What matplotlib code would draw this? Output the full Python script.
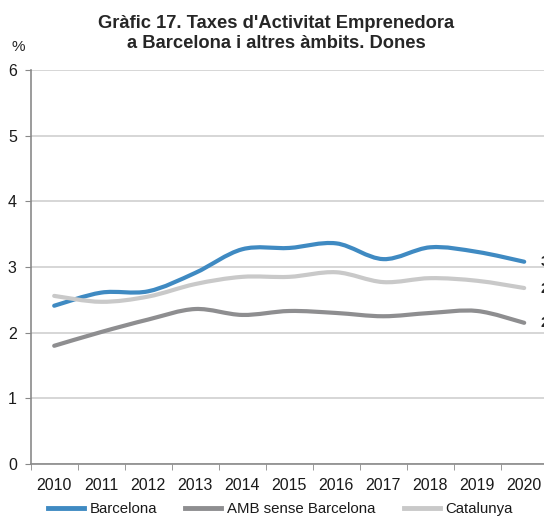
import matplotlib
matplotlib.use("Agg")
import matplotlib.pyplot as plt
from matplotlib.path import Path
from matplotlib.patches import PathPatch
from matplotlib.lines import Line2D

plt.rcParams['font.family'] = ['Liberation Sans', 'DejaVu Sans']

years = ['2010', '2011', '2012', '2013', '2014', '2015', '2016', '2017', '2018', '2019', '2020']
barcelona = [2.41, 2.61, 2.63, 2.91, 3.27, 3.29, 3.36, 3.12, 3.30, 3.23, 3.08]
amb = [1.80, 2.01, 2.20, 2.36, 2.27, 2.33, 2.30, 2.25, 2.30, 2.33, 2.15]
catalunya = [2.56, 2.47, 2.55, 2.74, 2.85, 2.85, 2.92, 2.77, 2.83, 2.79, 2.68]
end_labels = ['3,1', '2,1', '2,7']

names = ['Barcelona', 'AMB sense Barcelona', 'Catalunya']
colors = ['#3F8AC2', '#8E8E90', '#C9C9C9']
series = [barcelona, amb, catalunya]


def smooth_path(xs, ys):
    # Excel-like smoothed line: Catmull-Rom segments as cubic beziers
    verts = [(xs[0], ys[0])]
    codes = [Path.MOVETO]
    n = len(xs)
    for i in range(n - 1):
        x0, y0 = (xs[i - 1], ys[i - 1]) if i > 0 else (xs[i], ys[i])
        x1, y1 = xs[i], ys[i]
        x2, y2 = xs[i + 1], ys[i + 1]
        x3, y3 = (xs[i + 2], ys[i + 2]) if i + 2 < n else (xs[i + 1], ys[i + 1])
        c1 = (x1 + (x2 - x0) / 6, y1 + (y2 - y0) / 6)
        c2 = (x2 - (x3 - x1) / 6, y2 - (y3 - y1) / 6)
        verts += [c1, c2, (x2, y2)]
        codes += [Path.CURVE4] * 3
    return Path(verts, codes)


fig = plt.figure(figsize=(5.44, 5.16), dpi=100)
ax = fig.add_axes([30.7 / 544, 52 / 516, 517 / 544, 394 / 516])
x = list(range(len(years)))

for vals, c in zip(series, colors):
    patch = PathPatch(smooth_path(x, vals), facecolor='none', edgecolor=c,
                      lw=3, capstyle='round', joinstyle='round', zorder=3)
    ax.add_patch(patch)

# value labels at the line ends (cut by the right edge, as in the original)
for vals, lab in zip(series, end_labels):
    ax.text(10.35, vals[-1], lab, ha='left', va='center', fontsize=11,
            fontweight='bold', color='#262626', clip_on=False)

ax.set_xlim(-0.5, 10.5)
ax.set_ylim(0, 6)
ax.set_yticks(range(0, 7))
ax.set_xticks(x)
ax.set_xticklabels(years)
ax.set_xticks([i - 0.5 for i in range(12)], minor=True)
ax.tick_params(axis='x', which='major', length=0, pad=10, labelsize=11.5, labelcolor='#1a1a1a')
ax.tick_params(axis='x', which='minor', length=4, color='#888888', direction='out')
ax.tick_params(axis='y', length=4, color='#888888', direction='out', pad=6,
               labelsize=11.5, labelcolor='#1a1a1a')
ax.grid(axis='y', color='#D0D0D0', lw=1.2)
ax.set_axisbelow(True)
for s in ['top', 'right']:
    ax.spines[s].set_visible(False)
for s in ['left', 'bottom']:
    ax.spines[s].set_color('#8A8A8A')
    ax.spines[s].set_linewidth(1.2)

fig.text(0.508, 0.935, "Gràfic 17. Taxes d'Activitat Emprenedora\na Barcelona i altres àmbits. Dones",
         ha='center', va='center', fontsize=13.2, fontweight='bold', color='#262626', linespacing=1.3)
fig.text(0.033, 0.909, '%', ha='center', va='center', fontsize=11, color='#262626')

handles = [Line2D([], [], color=c, lw=3.5) for c in colors]
fig.legend(handles, names, loc='center', bbox_to_anchor=(0.515, 0.014), ncol=3,
           frameon=False, fontsize=10.8, handlelength=2.4, handletextpad=0.35,
           columnspacing=1.9, labelcolor='#1a1a1a')

fig.savefig('out.png', dpi=100)
